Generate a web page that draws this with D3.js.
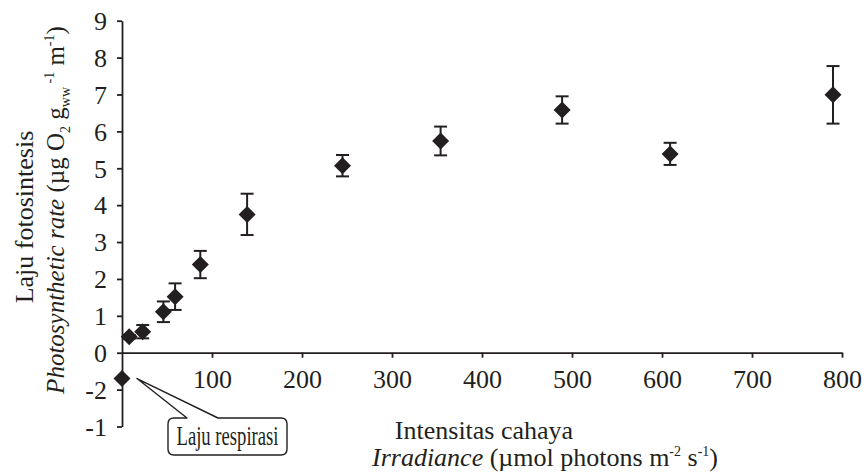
<!DOCTYPE html>
<html>
<head>
<meta charset="utf-8">
<script src="https://cdn.jsdelivr.net/npm/d3@7"></script>
<style>
  html, body { margin: 0; padding: 0; background: #fff; }
  svg { display: block; }
  text { font-family: "Liberation Serif", "DejaVu Serif", serif; fill: #231f20; }
</style>
</head>
<body>
<svg id="chart" width="866" height="473"></svg>
<script>
// ---- data ----
const irradiance = [8, 23, 46, 59, 87, 139, 245, 354, 489, 609, 790];
const rate       = [0.43, 0.57, 1.11, 1.52, 2.39, 3.75, 5.07, 5.74, 6.58, 5.39, 6.99];
const rateErr    = [0.05, 0.18, 0.28, 0.36, 0.37, 0.56, 0.29, 0.39, 0.37, 0.30, 0.78];
const respIrradiance = [0];
const respRate       = [-0.7];
const xTicks = [100, 200, 300, 400, 500, 600, 700, 800];
const yTicks = [-2, -1, 0, 1, 2, 3, 4, 5, 6, 7, 8, 9];
const yTickLabels = ["-1", "-2", "0", "1", "2", "3", "4", "5", "6", "7", "8", "9"];

const ink = "#231f20";
const svg = d3.select("#chart");

const x = d3.scaleLinear().domain([0, 800]).range([122, 842]);
const y = d3.scaleLinear().domain([-2, 9]).range([426.5, 20.7]);

// x axis at y = 0
const xAxis = svg.append("g")
  .attr("transform", `translate(0,${y(0)})`)
  .call(d3.axisBottom(x).tickValues(xTicks).tickSize(5).tickSizeOuter(0).tickPadding(11.5).tickFormat(d3.format("d")));
// y axis
const yAxis = svg.append("g")
  .attr("transform", `translate(${x(0)},0)`)
  .call(d3.axisLeft(y).tickValues(yTicks).tickSize(5).tickSizeOuter(0).tickPadding(10)
        .tickFormat((d, i) => yTickLabels[i]));

[xAxis, yAxis].forEach(g => {
  g.select(".domain").attr("stroke", ink).attr("stroke-width", 1.8);
  g.selectAll(".tick line").attr("stroke", ink).attr("stroke-width", 1.8);
  g.selectAll(".tick text").attr("font-family", '"Liberation Serif", serif')
    .attr("font-size", 26).attr("fill", ink);
});
yAxis.selectAll(".tick text").attr("dy", "0.34em");

// error bars
const pts = irradiance.map((v, i) => ({x: v, y: rate[i], e: rateErr[i]}));
const eb = svg.append("g").attr("stroke", ink).attr("stroke-width", 2).attr("fill", "none");
pts.forEach(p => {
  eb.append("line").attr("x1", x(p.x)).attr("x2", x(p.x)).attr("y1", y(p.y - p.e)).attr("y2", y(p.y + p.e));
  eb.append("line").attr("x1", x(p.x) - 6.5).attr("x2", x(p.x) + 6.5).attr("y1", y(p.y + p.e)).attr("y2", y(p.y + p.e));
  eb.append("line").attr("x1", x(p.x) - 6.5).attr("x2", x(p.x) + 6.5).attr("y1", y(p.y - p.e)).attr("y2", y(p.y - p.e));
});

// diamonds
const diamond = "M0,-8.5L8.5,0L0,8.5L-8.5,0Z";
svg.append("g").selectAll("path.pt").data(pts).join("path")
  .attr("d", diamond).attr("fill", ink)
  .attr("transform", d => `translate(${x(d.x)},${y(d.y)})`);
svg.append("g").selectAll("path.resp").data(respIrradiance.map((v, i) => ({x: v, y: respRate[i]}))).join("path")
  .attr("d", diamond).attr("fill", ink)
  .attr("transform", d => `translate(${x(d.x)},${y(d.y)})`);

// callout
const tipX = x(respIrradiance[0]) + 15, tipY = y(respRate[0]);
const bx0 = 168, bx1 = 287, by0 = 418, by1 = 455, r = 6;
const pA = 187, pB = 218;
const calloutPath = `M${pA},${by0}L${tipX},${tipY}L${pB},${by0}L${bx1 - r},${by0}Q${bx1},${by0} ${bx1},${by0 + r}` +
  `L${bx1},${by1 - r}Q${bx1},${by1} ${bx1 - r},${by1}L${bx0 + r},${by1}Q${bx0},${by1} ${bx0},${by1 - r}` +
  `L${bx0},${by0 + r}Q${bx0},${by0} ${bx0 + r},${by0}Z`;
svg.append("path").attr("d", calloutPath).attr("fill", "#fff").attr("stroke", ink).attr("stroke-width", 1.4).attr("stroke-linejoin", "round");
svg.append("text").attr("x", (bx0 + bx1) / 2).attr("y", 445).attr("text-anchor", "middle")
  .attr("font-family", '"Liberation Sans Narrow", "DejaVu Sans Condensed", "Liberation Sans", sans-serif')
  .attr("font-size", 27).attr("textLength", 102).attr("lengthAdjust", "spacingAndGlyphs")
  .text("Laju respirasi");

// x axis title
svg.append("text").attr("x", 484).attr("y", 439).attr("text-anchor", "middle").attr("font-size", 26)
  .text("Intensitas cahaya");
const xt2 = svg.append("text").attr("x", 372).attr("y", 466).attr("text-anchor", "start").attr("font-size", 26);
xt2.append("tspan").attr("font-style", "italic").text("Irradiance");
xt2.append("tspan").text(" (\u00b5mol photons m");
xt2.append("tspan").attr("font-size", 14).attr("dy", -10).text("-2");
xt2.append("tspan").attr("dy", 10).text(" s");
xt2.append("tspan").attr("font-size", 14).attr("dy", -10).text("-1");
xt2.append("tspan").attr("dy", 10).text(")");

// y axis title
svg.append("text").attr("transform", "translate(33,217) rotate(-90)").attr("text-anchor", "middle").attr("font-size", 26)
  .text("Laju fotosintesis");
const yt2 = svg.append("text").attr("transform", "translate(64,210) rotate(-90)").attr("text-anchor", "middle").attr("font-size", 25);
yt2.append("tspan").attr("font-style", "italic").text("Photosynthetic rate");
yt2.append("tspan").text(" (\u00b5g O");
yt2.append("tspan").attr("font-size", 14).attr("dy", 6).text("2");
yt2.append("tspan").attr("dy", -6).text(" g");
yt2.append("tspan").attr("font-size", 14).attr("dy", 6).text("ww");
yt2.append("tspan").attr("font-size", 14).attr("dy", -16).text(" -1");
yt2.append("tspan").attr("dy", 10).text(" m");
yt2.append("tspan").attr("font-size", 14).attr("dy", -10).text("-1");
yt2.append("tspan").attr("dy", 10).text(")");
</script>
</body>
</html>
